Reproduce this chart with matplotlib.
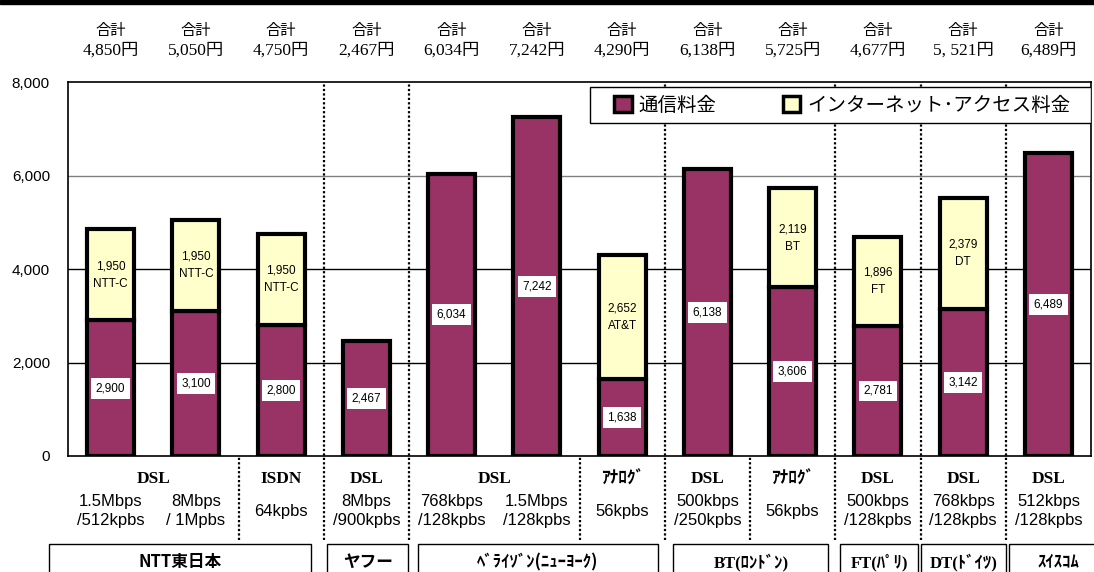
"""
通信料金とインターネット・アクセス料金の国際比較（積み上げ棒グラフ）
"""
import matplotlib
matplotlib.use('Agg')
import matplotlib.pyplot as plt
from matplotlib.patches import Patch, Rectangle

JP = 'Noto Sans CJK JP'
SERIF = ['Liberation Serif', JP]
SANS = ['Liberation Sans', JP]

# --- data ---
net_fee = [2900, 3100, 2800, 2467, 6034, 7242, 1638, 6138, 3606, 2781, 3142, 6489]
access_fee = [1950, 1950, 1950, 0, 0, 0, 2652, 0, 2119, 1896, 2379, 0]
access_provider = ['NTT-C', 'NTT-C', 'NTT-C', '', '', '', 'AT&T', '', 'BT', 'FT', 'DT', '']
total_labels = ['4,850', '5,050', '4,750', '2,467', '6,034', '7,242',
                '4,290', '6,138', '5,725', '4,677', '5, 521', '6,489']
speed_labels = ['1.5Mbps\n/512kpbs', '8Mbps\n/ 1Mpbs', '64kpbs', '8Mbps\n/900kpbs',
                '768kbps\n/128kpbs', '1.5Mbps\n/128kpbs', '56kpbs', '500kbps\n/250kpbs',
                '56kpbs', '500kbps\n/128kpbs', '768kbps\n/128kpbs', '512kbps\n/128kpbs']
tech_names = ['DSL', 'ISDN', 'DSL', 'DSL', 'ｱﾅﾛｸﾞ', 'DSL', 'ｱﾅﾛｸﾞ', 'DSL', 'DSL', 'DSL']
tech_first = [0, 2, 3, 4, 6, 7, 8, 9, 10, 11]
tech_last = [1, 2, 3, 5, 6, 7, 8, 9, 10, 11]
companies = ['NTT東日本', 'ヤフー', 'ﾍﾞﾗｲｿﾞﾝ(ﾆｭｰﾖｰｸ)', 'BT(ﾛﾝﾄﾞﾝ)', 'FT(ﾊﾟﾘ)', 'DT(ﾄﾞｲﾂ)', 'ｽｲｽｺﾑ']
company_first = [0, 3, 4, 7, 9, 10, 11]
company_last = [2, 3, 6, 8, 9, 10, 11]
y_ticks = [0, 2000, 4000, 6000, 8000]
legend_labels = ['通信料金', 'インターネット･アクセス料金']

# --- layout ---
PURPLE = '#993366'
YELLOW = '#FFFFCC'
BAR_W = 0.55
box_left = [-0.72, 2.54, 3.6, 6.6, 8.56, 9.51, 10.54]
box_right = [2.35, 3.49, 6.42, 8.42, 9.47, 10.5, 11.7]

fig = plt.figure(figsize=(10.94, 5.72), dpi=100)
ax = fig.add_axes([0.0622, 0.2028, 0.9351, 0.6538])
fig.patches.append(Rectangle((0, 1 - 4 / 572), 1, 4 / 572, transform=fig.transFigure,
                             color='black', zorder=10))

x = list(range(len(net_fee)))
ax.set_xlim(-0.5, 11.5)
ax.set_ylim(0, 8000)

for yv, c in zip([2000, 4000, 6000], ['black', 'black', '#808080']):
    ax.axhline(yv, color=c, lw=1, zorder=1)

ax.bar(x, net_fee, BAR_W, color=PURPLE, edgecolor='black', lw=3, zorder=3)
ax.bar(x, access_fee, BAR_W, bottom=net_fee, color=YELLOW, edgecolor='black', lw=3, zorder=3)
# bars without an access fee must not get an empty outlined sliver
for p, v in zip(ax.patches[len(x):], access_fee):
    if v == 0:
        p.set_visible(False)

for i in x:
    ax.text(i, net_fee[i] / 2, f'{net_fee[i]:,}', ha='center', va='center', fontsize=8.5,
            family=SANS, zorder=5,
            bbox=dict(boxstyle='square,pad=0.38', fc='white', ec='none'))
    if access_fee[i]:
        ax.text(i, net_fee[i] + access_fee[i] / 2, f'{access_fee[i]:,}\n{access_provider[i]}',
                ha='center', va='center', fontsize=8.5, family=SANS, linespacing=1.6, zorder=5)
    ax.text(i, 9110, '合計', ha='center', va='center', fontsize=11, family=JP, clip_on=False)
    ax.text(i, 8680, total_labels[i] + '円', ha='center', va='center', fontsize=12.5,
            family=SERIF, clip_on=False)
    ax.text(i, -1180, speed_labels[i], ha='center', va='center', fontsize=12, family=SANS,
            linespacing=1.3, clip_on=False)

for name, a, b in zip(tech_names, tech_first, tech_last):
    fam = SERIF if name.isascii() else JP
    ax.text((a + b) / 2, -490, name, ha='center', va='center', fontsize=12.5,
            family=fam, weight='bold', clip_on=False)

# separators: full height between companies, below axis only inside a company
for k in range(len(x) - 1):
    xs = k + 0.5
    if k + 1 in company_first:
        ax.plot([xs, xs], [-1800, 8000], color='black', lw=1.6, ls=(0, (1, 1)),
                clip_on=False, zorder=2)
    elif k + 1 in tech_first:
        ax.plot([xs, xs], [-1800, 0], color='black', lw=1.6, ls=(0, (1, 1)),
                clip_on=False, zorder=2)

for name, l, r in zip(companies, box_left, box_right):
    ax.add_patch(Rectangle((l, -2600), r - l, 720, fill=False, ec='black', lw=1,
                           clip_on=False))
    fam = SERIF if name[:2] in ('BT', 'FT', 'DT') else JP
    ax.text((l + r) / 2, -2270, name, ha='center', va='center', fontsize=12,
            family=fam, weight='bold', clip_on=False)

ax.set_yticks(y_ticks)
ax.set_yticklabels([f'{v:,}' for v in y_ticks], family=SANS, fontsize=11)
ax.tick_params(axis='y', length=0, pad=13)
ax.set_xticks([])
for s in ax.spines.values():
    s.set_linewidth(1.2)

# legend frame drawn separately so it can be wider than its content
ax.add_patch(Rectangle((0.5103, 0.8904), 0.4897, 0.0962, transform=ax.transAxes,
                       fc='white', ec='black', lw=1, zorder=5))
handles = [Patch(fc=PURPLE, ec='black', lw=2.5), Patch(fc=YELLOW, ec='black', lw=2.5)]
leg = ax.legend(handles, legend_labels, loc='center', bbox_to_anchor=(0.757, 0.9385),
                ncol=2, frameon=False, prop={'family': JP, 'size': 14},
                handlelength=0.9, handleheight=0.9, handletextpad=0.35,
                columnspacing=3.4, borderpad=0, borderaxespad=0)
leg.set_zorder(6)

fig.savefig('out.png', dpi=100)
